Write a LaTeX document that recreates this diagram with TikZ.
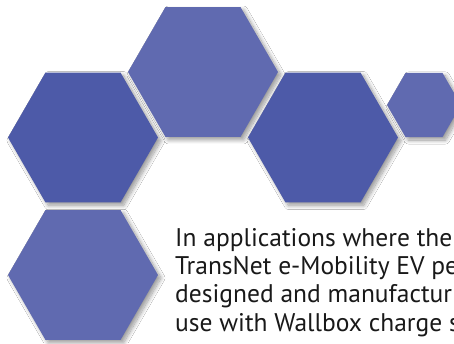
\documentclass[tikz,border=0pt]{standalone}
\usepackage{fontspec}
\setmainfont{PT Sans}
\usetikzlibrary{shapes.geometric,shadows.blur}
\definecolor{hexdark}{HTML}{4D5AA8}
\definecolor{hexlight}{HTML}{606AB0}
\tikzset{
  hexa/.style={regular polygon, regular polygon sides=6, inner sep=0pt, draw=none,
    blur shadow={shadow xshift=3pt, shadow yshift=-3pt, shadow blur radius=4pt, shadow blur steps=12, shadow opacity=40}},
  bodytext/.style={anchor=base west, inner sep=0pt, text=black!90,
    font=\fontsize{25.5}{28.2}\selectfont}
}
\begin{document}
\begin{tikzpicture}[x=1pt,y=-1pt]
\useasboundingbox[fill=white] (0,0) rectangle (454,343);
\node[hexa, fill=hexlight, minimum size=150pt] (h2) at (203,72) {};
\node[hexa, fill=hexdark, minimum size=150pt] (h1) at (83,137.5) {};
\node[hexa, fill=hexdark, minimum size=150pt] (h3) at (323,137.5) {};
\node[hexa, fill=hexlight, minimum size=74pt] (h4) at (424,105) {};
\node[hexa, fill=hexlight, minimum size=150pt] (h5) at (83,275) {};
\node[bodytext] (t1) at (175,246.5) {In applications where the};
\node[bodytext] (t2) at (175,274.7) {TransNet e-Mobility EV pe};
\node[bodytext] (t3) at (175,302.9) {designed and manufactur};
\node[bodytext] (t4) at (175,331.1) {use with Wallbox charge s};
\end{tikzpicture}
\end{document}
